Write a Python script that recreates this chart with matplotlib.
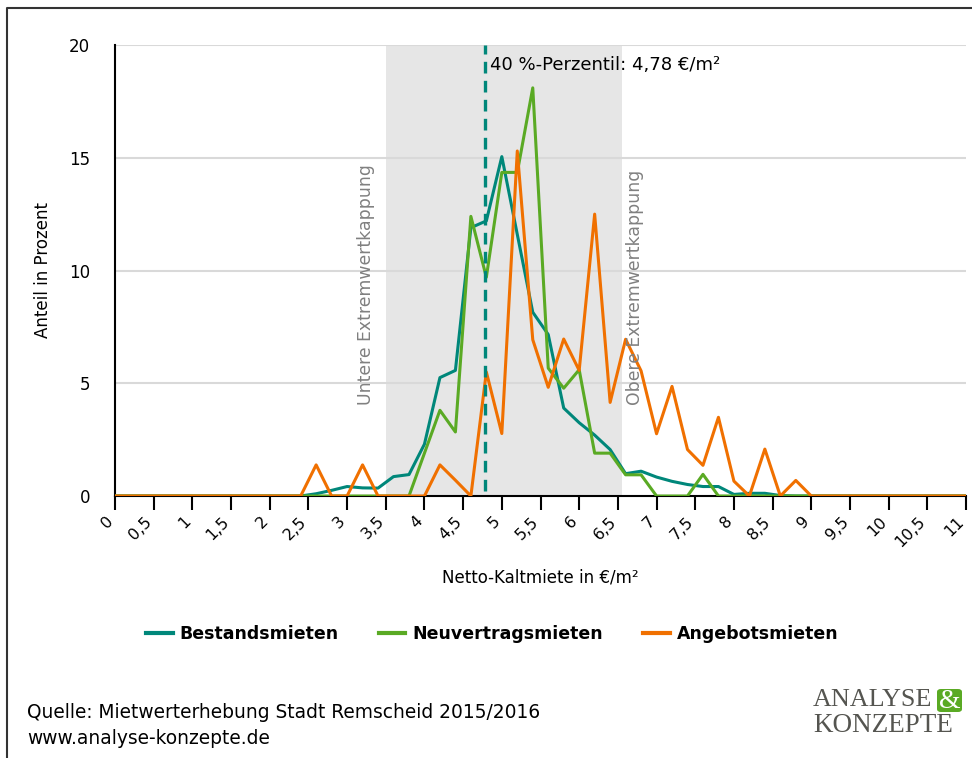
import numpy as np
import matplotlib
matplotlib.use('Agg')
import matplotlib.pyplot as plt
import matplotlib.transforms as mtransforms
from matplotlib.lines import Line2D
from matplotlib.patches import FancyBboxPatch

matplotlib.rcParams.update({
    'font.family': 'DejaVu Sans',
    'font.size': 12,
})

# Netto-Kaltmiete in 0,2 EUR steps from 0 to 11
miete = np.round(np.arange(0, 11.01, 0.2), 1)

bestand_vals = {
    2.6: 0.1, 2.8: 0.25, 3.0: 0.42, 3.2: 0.36, 3.4: 0.35, 3.6: 0.86, 3.8: 0.95,
    4.0: 2.3, 4.2: 5.25, 4.4: 5.57, 4.6: 11.9, 4.8: 12.2, 5.0: 15.05, 5.2: 11.6,
    5.4: 8.15, 5.6: 7.16, 5.8: 3.9, 6.0: 3.25, 6.2: 2.7, 6.4: 2.06, 6.6: 0.99,
    6.8: 1.1, 7.0: 0.84, 7.2: 0.65, 7.4: 0.51, 7.6: 0.42, 7.8: 0.42, 8.0: 0.07,
    8.2: 0.12, 8.4: 0.12, 8.6: 0.02,
}
neuvertrag_vals = {
    4.0: 1.9, 4.2: 3.8, 4.4: 2.84, 4.6: 12.4, 4.8: 9.7, 5.0: 14.35, 5.2: 14.35,
    5.4: 18.1, 5.6: 5.67, 5.8: 4.78, 6.0: 5.6, 6.2: 1.9, 6.4: 1.9, 6.6: 0.94,
    6.8: 0.94, 7.6: 0.96,
}
angebot_vals = {
    2.6: 1.38, 3.2: 1.38, 4.2: 1.38, 4.4: 0.7, 4.8: 5.5, 5.0: 2.77, 5.2: 15.3,
    5.4: 6.93, 5.6: 4.82, 5.8: 6.96, 6.0: 5.57, 6.2: 12.5, 6.4: 4.15, 6.6: 6.95,
    6.8: 5.55, 7.0: 2.76, 7.2: 4.86, 7.4: 2.06, 7.6: 1.36, 7.8: 3.49, 8.0: 0.66,
    8.4: 2.08, 8.8: 0.69,
}
bestand = [bestand_vals.get(m, 0.0) for m in miete]
neuvertrag = [neuvertrag_vals.get(m, 0.0) for m in miete]
angebot = [angebot_vals.get(m, 0.0) for m in miete]

kappung_unten = 3.5
kappung_oben = 6.55
perzentil = 4.78

xticks = np.arange(0, 11.01, 0.5)
xticklabels = [('%g' % t).replace('.', ',') for t in xticks]
yticks = [0, 5, 10, 15, 20]

c_teal = '#00877a'
c_green = '#5aaa24'
c_orange = '#f07000'

fig = plt.figure(figsize=(9.72, 7.58), dpi=100)
ax = fig.add_axes([115 / 972, 1 - 496 / 758, 851 / 972, 451 / 758])

ax.axvspan(kappung_unten, kappung_oben, color='#e6e6e6', zorder=0, lw=0)
for y in yticks[1:]:
    ax.axhline(y, color='#d9d9d9', lw=1.5, zorder=1)

ax.plot(miete, bestand, color=c_teal, lw=2.2, zorder=3)
ax.plot(miete, neuvertrag, color=c_green, lw=2.2, zorder=3)
ax.plot(miete, angebot, color=c_orange, lw=2.2, zorder=3)

ax.axvline(perzentil, color=c_teal, lw=2.4, ls=(0, (3.5, 2.2)), zorder=4,
           ymin=0.012)
ax.text(perzentil + 0.07, 19.1, '40 %-Perzentil: 4,78 €/m²', fontsize=13,
        ha='left', va='center')

ax.text(kappung_unten - 0.25, 4.05, 'Untere Extremwertkappung', rotation=90,
        color='#808080', fontsize=12.4, ha='center', va='bottom')
ax.text(kappung_oben + 0.17, 4.05, 'Obere Extremwertkappung', rotation=90,
        color='#808080', fontsize=12.4, ha='center', va='bottom')

ax.set_xlim(0, 11)
ax.set_ylim(0, 20)
ax.set_xticks(xticks)
ax.set_xticklabels([])
# rotated tick labels, nudged a little left so the last one stays inside
shift = mtransforms.ScaledTranslation(-4 / 100, -23 / 100, fig.dpi_scale_trans)
for t, lbl in zip(xticks, xticklabels):
    ax.text(t, 0, lbl, transform=ax.get_xaxis_transform() + shift,
            rotation=45, ha='right', va='center', rotation_mode='anchor',
            fontsize=11.5)
ax.set_yticks(yticks)
ax.tick_params(axis='x', length=10, width=1.5, direction='out', pad=3)
ax.tick_params(axis='y', length=0, pad=18)
for side in ('top', 'right'):
    ax.spines[side].set_visible(False)
ax.spines['left'].set_linewidth(1.5)
ax.spines['bottom'].set_linewidth(1.5)

ax.set_xlabel('Netto-Kaltmiete in €/m²', fontsize=12, labelpad=39)
ax.set_ylabel('Anteil in Prozent', fontsize=12, labelpad=12)

handles = [Line2D([], [], color=c, lw=3) for c in (c_teal, c_green, c_orange)]
fig.legend(handles, ['Bestandsmieten', 'Neuvertragsmieten', 'Angebotsmieten'],
           loc='center', bbox_to_anchor=(492 / 972, 1 - 634 / 758), ncol=3,
           frameon=False, prop={'weight': 'bold', 'size': 12.5},
           handlelength=1.55, handletextpad=0.4, columnspacing=2.3)

fig.text(27 / 972, 1 - 713 / 758, 'Quelle: Mietwerterhebung Stadt Remscheid 2015/2016',
         fontsize=13.4, va='center')
fig.text(27 / 972, 1 - 738 / 758, 'www.analyse-konzepte.de', fontsize=13.4,
         va='center')

# logo
fig.text(813 / 972, 1 - 700 / 758, 'ANALYSE', family='Liberation Serif',
         fontsize=18.8, color='#555550', va='center')
fig.text(813 / 972, 1 - 726 / 758, 'KONZEPTE', family='Liberation Serif',
         fontsize=19.5, color='#555550', va='center')
box = FancyBboxPatch((937 / 972, 1 - 712 / 758), 25 / 972, 23 / 758,
                     boxstyle='round,pad=0,rounding_size=0.004',
                     transform=fig.transFigure, color=c_green, lw=0)
fig.patches.append(box)
fig.text(949.5 / 972, 1 - 701 / 758, '&', family='Liberation Serif', fontsize=20,
         color='white', ha='center', va='center')

# frame lines at top and left
fig.add_artist(Line2D([7 / 972, 7 / 972, 1], [0, 1 - 8 / 758, 1 - 8 / 758],
                      transform=fig.transFigure, color='#333333', lw=1.5))

fig.savefig('out.png', dpi=100)
